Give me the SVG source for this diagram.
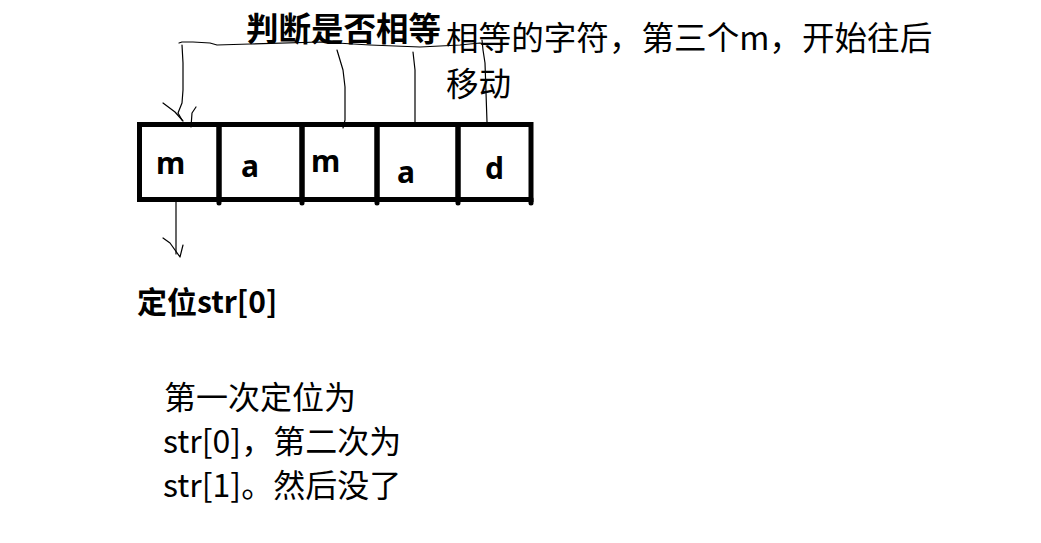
<svg xmlns="http://www.w3.org/2000/svg" width="1041" height="543" viewBox="0 0 1041 543">
<style>
.cell{fill:none;stroke:#000;stroke-width:5;stroke-linecap:round}
.ch{font-family:"Noto Sans","Noto Sans CJK SC",sans-serif;font-weight:bold;font-size:30px;fill:#000}
.lbl{font-family:"Noto Sans CJK SC","Noto Sans",sans-serif;font-size:32px;fill:#000}
.b{font-weight:bold}
.ln{fill:none;stroke:#000;stroke-width:1.2;stroke-linecap:round;stroke-linejoin:round}
</style>
<rect width="1041" height="543" fill="#fff"/>
<g id="cell0"><rect class="cell" x="139.5" y="124.5" width="79.5" height="75"/><text class="ch" x="156" y="174">m</text></g>
<g id="cell1"><rect class="cell" x="219" y="124.5" width="83" height="75"/><line class="cell" x1="219" y1="199" x2="219" y2="203"/><text class="ch" x="241" y="177">a</text></g>
<g id="cell2"><rect class="cell" x="302" y="124.5" width="75" height="75"/><line class="cell" x1="302" y1="199" x2="302" y2="203"/><text class="ch" x="311" y="172">m</text></g>
<g id="cell3"><rect class="cell" x="377" y="124.5" width="81" height="75"/><line class="cell" x1="377" y1="199" x2="377" y2="203"/><text class="ch" x="397" y="183">a</text></g>
<g id="cell4"><rect class="cell" x="458" y="124.5" width="73" height="75"/><line class="cell" x1="458" y1="199" x2="458" y2="203"/><line class="cell" x1="531" y1="199" x2="531" y2="203"/><text class="ch" x="485" y="179">d</text></g>
<g id="title"><text class="lbl b" x="246" y="41" style="font-size:32.5px">判断是否相等</text></g>
<g id="note1"><text class="lbl" x="446" y="50" style="font-size:32.6px">相等的字符，第三个m，开始往后</text><text class="lbl" x="446" y="96" style="font-size:32.6px">移动</text></g>
<g id="locate"><text class="lbl b" x="137" y="313" style="font-size:30px">定位str[0]</text></g>
<g id="note2"><text class="lbl" x="164" y="409">第一次定位为</text><text class="lbl" x="163" y="453">str[0]，第二次为</text><text class="lbl" x="163" y="497">str[1]。然后没了</text></g>
<g id="connectors">
<path class="ln" d="M179,43 L182,42 L193,42 L210,43 L217,45 L250,44 L320,42 L370,45 L420,47 L460,45 L480,43 L487,45"/>
<path class="ln" d="M182,45 L183,63 L183,90 L182,103 L178,113 L182,120"/>
<path class="ln" d="M163,103 L175,112 L183,121"/>
<path class="ln" d="M196,107 L192,113 L191,127"/>
<path class="ln" d="M337,50 L343,70 L345,87 L345,120 L343,128"/>
<path class="ln" d="M413,52 L415,70 L415,122"/>
<path class="ln" d="M482,40 L483,50 L485,63 L487,122"/>
<path class="ln" d="M176,202 L176,254"/>
<path class="ln" d="M163,238 L170,243 L180,257 L183,245"/>
</g>
</svg>
